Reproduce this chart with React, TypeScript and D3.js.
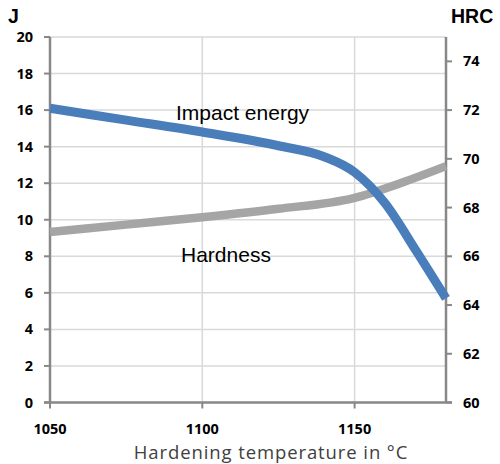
import React from "react";
import * as d3 from "d3";

const impactTemps = [1050, 1075, 1100, 1125, 1140, 1150, 1160, 1170, 1180];
const impactValues = [16.1, 15.45, 14.8, 14.05, 13.45, 12.6, 10.9, 8.35, 5.7];
const hardTemps = [1050, 1075, 1100, 1125, 1150, 1165, 1180];
const hardValues = [67.0, 67.3, 67.6, 67.95, 68.4, 69.0, 69.7];
const xTicks = [1050, 1100, 1150];
const leftTicks = [0, 2, 4, 6, 8, 10, 12, 14, 16, 18, 20];
const rightTicks = [60, 62, 64, 66, 68, 70, 72, 74];

const W = 500;
const H = 464;
const L = 50;
const R = 446;
const T = 37;
const B = 402.5;

export default function App() {
  const x = d3.scaleLinear().domain([1050, 1180]).range([L, R]);
  const yL = d3.scaleLinear().domain([0, 20]).range([B, T]);
  const yR = d3.scaleLinear().domain([60, 75]).range([B, T]);

  const impactLine = d3
    .line<number>()
    .x((_, i) => x(impactTemps[i]))
    .y((d) => yL(d))
    .curve(d3.curveMonotoneX)(impactValues) as string;
  const hardLine = d3
    .line<number>()
    .x((_, i) => x(hardTemps[i]))
    .y((d) => yR(d))
    .curve(d3.curveMonotoneX)(hardValues) as string;

  const tickFont = "'Open Sans', sans-serif";
  const axisColor = "#888888";
  const gridColor = "#d9d9d9";

  return (
    <svg
      width={W}
      height={H}
      style={{ position: "absolute", left: 0, top: 0, background: "#fff" }}
    >
      {leftTicks.map((t) => (
        <line key={"gh" + t} x1={L} x2={R} y1={yL(t)} y2={yL(t)} stroke={gridColor} strokeWidth={1.5} />
      ))}
      {xTicks.map((t) => (
        <line key={"gv" + t} x1={x(t)} x2={x(t)} y1={T} y2={B} stroke={gridColor} strokeWidth={1.5} />
      ))}

      <line x1={L} x2={L} y1={T} y2={B} stroke={axisColor} strokeWidth={2.5} />
      <line x1={R} x2={R} y1={T} y2={B} stroke={axisColor} strokeWidth={2.5} />
      <line x1={L - 6} x2={R + 6} y1={B} y2={B} stroke={axisColor} strokeWidth={2.5} />

      {leftTicks.map((t) => (
        <g key={"lt" + t}>
          <line x1={L - 6} x2={L} y1={yL(t)} y2={yL(t)} stroke={axisColor} strokeWidth={2} />
          <text
            x={33}
            y={yL(t)}
            dy="0.35em"
            textAnchor="end"
            fontFamily={tickFont}
            fontWeight="bold"
            fontSize={14.5}
            fill="#000"
          >
            {t}
          </text>
        </g>
      ))}

      {rightTicks.map((t) => (
        <g key={"rt" + t}>
          <line x1={R} x2={R + 6} y1={yR(t)} y2={yR(t)} stroke={axisColor} strokeWidth={2} />
          <text
            x={463}
            y={yR(t)}
            dy="0.35em"
            textAnchor="start"
            fontFamily={tickFont}
            fontWeight="bold"
            fontSize={14.5}
            fill="#000"
          >
            {t}
          </text>
        </g>
      ))}

      {xTicks.map((t) => (
        <g key={"xt" + t}>
          <line x1={x(t)} x2={x(t)} y1={B} y2={B + 6} stroke={axisColor} strokeWidth={2} />
          <text
            x={x(t)}
            y={433.5}
            textAnchor="middle"
            fontFamily={tickFont}
            fontWeight="bold"
            fontSize={14.5}
            fill="#000"
          >
            {t}
          </text>
        </g>
      ))}

      <path d={hardLine} fill="none" stroke="#a5a5a5" strokeWidth={8.5} />
      <path d={impactLine} fill="none" stroke="#4a7ebb" strokeWidth={9} />

      <text x={176} y={120} fontFamily="'Liberation Sans', Arial, sans-serif" fontSize={21} fill="#000">
        Impact energy
      </text>
      <text x={181} y={262} fontFamily="'Liberation Sans', Arial, sans-serif" fontSize={21} fill="#000">
        Hardness
      </text>
      <text x={8} y={23} fontFamily="'Liberation Sans', Arial, sans-serif" fontWeight="bold" fontSize={19.5} fill="#000">
        J
      </text>
      <text x={451} y={23} fontFamily="'Liberation Sans', Arial, sans-serif" fontWeight="bold" fontSize={19.5} fill="#000">
        HRC
      </text>
      <text
        x={271}
        y={458.5}
        textAnchor="middle"
        fontFamily={tickFont}
        fontSize={18.5}
        letterSpacing={0.9}
        fill="#404040"
      >
        Hardening temperature in °C
      </text>
    </svg>
  );
}
